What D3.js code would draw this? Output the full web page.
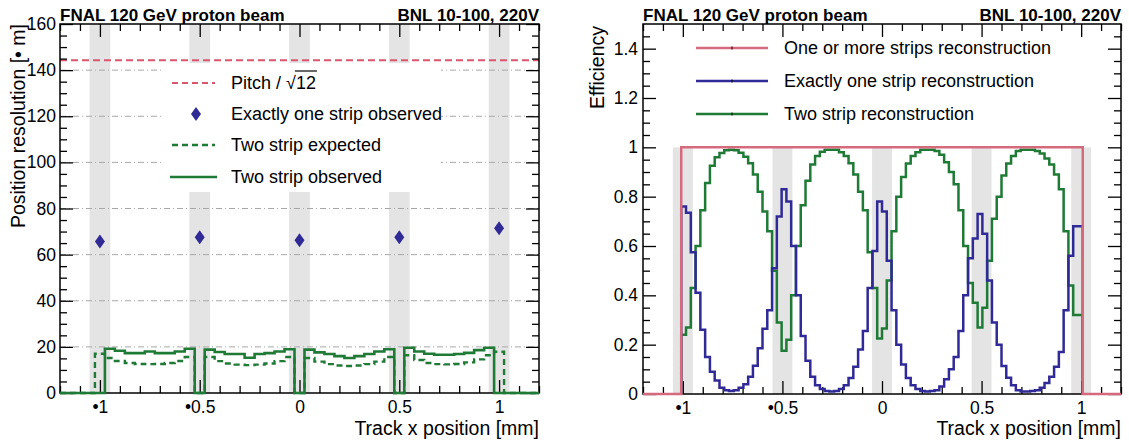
<!DOCTYPE html>
<html>
<head>
<meta charset="utf-8">
<script src="https://cdn.jsdelivr.net/npm/d3@7"></script>
<style>
  body { margin: 0; background: #fff; }
  svg text { font-family: "Liberation Sans", Arial, sans-serif; fill: #000; }
  .axis path.domain { display: none; }
  .axis line { stroke: #000; stroke-width: 1.3; }
  .axis text { font-size: 17.5px; }
</style>
</head>
<body>
<div id="chart"></div>
<script>
// ---------- shared ----------
const stripPos = [-1, -0.5, 0, 0.5, 1];
const xTickVals = [-1, -0.5, 0, 0.5, 1];
const xTickLabels = ["•1", "•0.5", "0", "0.5", "1"];

// ---------- left: position resolution ----------
const resTicks = [0, 20, 40, 60, 80, 100, 120, 140, 160];
const resTickLabels = ["0", "20", "40", "60", "80", "100", "120", "140", "160"];
const pitchLevel = 144.3; // 500 um / sqrt(12)

const oneStripX = [-1, -0.5, 0, 0.5, 1];
const oneStripRes = [65.7, 67.5, 66.2, 67.5, 71.4];

const resBinCenters = [-1.00, -0.95, -0.90, -0.85, -0.80, -0.75, -0.70, -0.65, -0.60, -0.55,
  -0.50, -0.45, -0.40, -0.35, -0.30, -0.25, -0.20, -0.15, -0.10, -0.05,
  0.00, 0.05, 0.10, 0.15, 0.20, 0.25, 0.30, 0.35, 0.40, 0.45,
  0.50, 0.55, 0.60, 0.65, 0.70, 0.75, 0.80, 0.85, 0.90, 0.95, 1.00];
const twoObserved = [0, 19.2, 18.3, 17.3, 17.3, 18.0, 17.3, 17.3, 18.0, 19.2,
  0, 18.8, 17.8, 16.9, 16.9, 15.3, 16.9, 17.3, 18.0, 19.0,
  0, 18.8, 17.6, 16.9, 16.0, 15.2, 16.0, 16.9, 18.0, 19.0,
  0, 19.6, 18.0, 17.0, 16.6, 16.6, 16.9, 17.4, 18.6, 19.6, 0];
const twoExpected = [17.0, 15.2, 13.9, 13.0, 12.6, 12.5, 12.6, 13.0, 13.9, 15.6,
  0, 15.6, 13.8, 12.8, 12.3, 12.1, 12.3, 12.8, 13.8, 15.6,
  0, 15.2, 13.6, 12.5, 11.9, 11.7, 11.9, 12.5, 13.6, 15.6,
  0, 16.4, 14.3, 13.0, 12.5, 12.4, 12.6, 13.3, 14.6, 16.4, 17.9];

// ---------- right: efficiency ----------
const effTicks = [0, 0.2, 0.4, 0.6, 0.8, 1, 1.2, 1.4];
const effTickLabels = ["0", "0.2", "0.4", "0.6", "0.8", "1", "1.2", "1.4"];

const effBinCenters = [-0.996, -0.972, -0.948, -0.924, -0.900, -0.876, -0.852, -0.828, -0.804, -0.780,
  -0.756, -0.732, -0.708, -0.684, -0.660, -0.636, -0.612, -0.588, -0.564, -0.540,
  -0.516, -0.492, -0.468, -0.444, -0.420, -0.396, -0.372, -0.348, -0.324, -0.300,
  -0.276, -0.252, -0.228, -0.204, -0.180, -0.156, -0.132, -0.108, -0.084, -0.060,
  -0.036, -0.012, 0.012, 0.036, 0.060, 0.084, 0.108, 0.132, 0.156, 0.180,
  0.204, 0.228, 0.252, 0.276, 0.300, 0.324, 0.348, 0.372, 0.396, 0.420,
  0.444, 0.468, 0.492, 0.516, 0.540, 0.564, 0.588, 0.612, 0.636, 0.660,
  0.684, 0.708, 0.732, 0.756, 0.780, 0.804, 0.828, 0.852, 0.876, 0.900,
  0.924, 0.948, 0.972, 0.996];
const effOneOrMore = [1, 1, 1, 1, 1, 1, 1, 1, 1, 1, 1, 1, 1, 1, 1, 1, 1, 1, 1, 1, 1,
  1, 1, 1, 1, 1, 1, 1, 1, 1, 1, 1, 1, 1, 1, 1, 1, 1, 1, 1, 1, 1,
  1, 1, 1, 1, 1, 1, 1, 1, 1, 1, 1, 1, 1, 1, 1, 1, 1, 1, 1, 1, 1,
  1, 1, 1, 1, 1, 1, 1, 1, 1, 1, 1, 1, 1, 1, 1, 1, 1, 1, 1, 1, 1];
const effExactlyOne = [0.76, 0.735, 0.575, 0.41, 0.26, 0.15, 0.09, 0.055, 0.025, 0.015,
  0.012, 0.015, 0.025, 0.04, 0.07, 0.115, 0.185, 0.265, 0.34, 0.51,
  0.72, 0.83, 0.78, 0.60, 0.40, 0.235, 0.135, 0.07, 0.035, 0.02,
  0.012, 0.01, 0.012, 0.02, 0.035, 0.065, 0.11, 0.18, 0.255, 0.43,
  0.58, 0.78, 0.74, 0.54, 0.34, 0.20, 0.12, 0.065, 0.035, 0.02,
  0.012, 0.01, 0.012, 0.015, 0.03, 0.06, 0.10, 0.15, 0.255, 0.40,
  0.55, 0.63, 0.73, 0.65, 0.46, 0.29, 0.20, 0.114, 0.066, 0.035,
  0.015, 0.01, 0.01, 0.012, 0.015, 0.025, 0.045, 0.07, 0.11, 0.17,
  0.34, 0.56, 0.68, 0.68];
const effTwoStrip = [0.24, 0.27, 0.43, 0.60, 0.745, 0.855, 0.925, 0.96, 0.977, 0.988,
  0.99, 0.988, 0.978, 0.962, 0.935, 0.89, 0.82, 0.74, 0.66, 0.50,
  0.29, 0.175, 0.22, 0.40, 0.60, 0.765, 0.865, 0.93, 0.965, 0.982,
  0.99, 0.99, 0.99, 0.98, 0.965, 0.935, 0.89, 0.82, 0.745, 0.575,
  0.43, 0.225, 0.266, 0.46, 0.66, 0.80, 0.88, 0.934, 0.965, 0.98,
  0.99, 0.99, 0.99, 0.985, 0.97, 0.94, 0.90, 0.85, 0.745, 0.60,
  0.45, 0.37, 0.27, 0.35, 0.54, 0.71, 0.80, 0.886, 0.934, 0.965,
  0.985, 0.99, 0.99, 0.99, 0.985, 0.975, 0.955, 0.93, 0.89, 0.83,
  0.66, 0.44, 0.32, 0.32];

(function () {
  var green = "#1f7a36", blue = "#302a96", red = "#d46a7c", redDash = "#d9566e", band = "#e4e4e4";

  // step histogram outline through the given bins
  function stepPoints(centers, values, width, xFrom, xTo) {
    var pts = [];
    var lo0 = centers[0] - width / 2, hiN = centers[centers.length - 1] + width / 2;
    if (xFrom !== null) pts.push([xFrom, 0]);
    pts.push([lo0, 0]);
    centers.forEach(function (c, i) {
      pts.push([c - width / 2, values[i]], [c + width / 2, values[i]]);
    });
    pts.push([hiN, 0]);
    if (xTo !== null) pts.push([xTo, 0]);
    return pts;
  }

  function drawAxes(g, x, y, w, h, yVals, yLabels, yMinor, yPad) {
    var xMinor = d3.range(-1.2, 1.2001, 0.1).filter(v => !xTickVals.some(m => Math.abs(m - v) < 1e-6));

    g.append("rect").attr("width", w).attr("height", h)
      .attr("fill", "none").attr("stroke", "#000").attr("stroke-width", 1.5);

    // bottom / top
    g.append("g").attr("class", "axis").attr("transform", "translate(0," + h + ")")
      .call(d3.axisBottom(x).tickValues(xTickVals).tickSize(-13).tickSizeOuter(0).tickPadding(8)
        .tickFormat((d, i) => xTickLabels[i]));
    g.append("g").attr("class", "axis").attr("transform", "translate(0," + h + ")")
      .call(d3.axisBottom(x).tickValues(xMinor).tickSize(-7).tickSizeOuter(0).tickFormat(""));
    g.append("g").attr("class", "axis")
      .call(d3.axisTop(x).tickValues(xTickVals).tickSize(-13).tickSizeOuter(0).tickFormat(""));
    g.append("g").attr("class", "axis")
      .call(d3.axisTop(x).tickValues(xMinor).tickSize(-7).tickSizeOuter(0).tickFormat(""));

    // left / right
    g.append("g").attr("class", "axis")
      .call(d3.axisLeft(y).tickValues(yVals).tickSize(-13).tickSizeOuter(0).tickPadding(yPad)
        .tickFormat((d, i) => yLabels[i]));
    g.append("g").attr("class", "axis")
      .call(d3.axisLeft(y).tickValues(yMinor).tickSize(-7).tickSizeOuter(0).tickFormat(""));
    g.append("g").attr("class", "axis").attr("transform", "translate(" + w + ",0)")
      .call(d3.axisRight(y).tickValues(yVals).tickSize(-13).tickSizeOuter(0).tickFormat(""));
    g.append("g").attr("class", "axis").attr("transform", "translate(" + w + ",0)")
      .call(d3.axisRight(y).tickValues(yMinor).tickSize(-7).tickSizeOuter(0).tickFormat(""));
  }

  function titles(g, w) {
    g.append("text").attr("x", 0).attr("y", -3).attr("font-size", "17px").attr("font-weight", "bold")
      .text("FNAL 120 GeV proton beam");
    g.append("text").attr("x", w).attr("y", -3).attr("text-anchor", "end")
      .attr("font-size", "17px").attr("font-weight", "bold").text("BNL 10-100, 220V");
    g.append("text").attr("x", w).attr("y", 411).attr("text-anchor", "end")
      .attr("font-size", "19.5px").text("Track x position [mm]");
  }

  var drawCharts = function () {
    var svg = d3.select("#chart").append("svg").attr("width", 1129).attr("height", 442);

    // ================= left panel =================
    var L = { left: 60, top: 24, width: 479, height: 369 };
    var gl = svg.append("g").attr("transform", "translate(" + L.left + "," + L.top + ")");
    var xL = d3.scaleLinear().domain([-1.2, 1.2]).range([0, L.width]);
    var yL = d3.scaleLinear().domain([0, 160]).range([L.height, 0]);

    gl.selectAll("rect.band").data(stripPos).enter().append("rect").attr("class", "band")
      .attr("x", d => xL(d - 0.052)).attr("width", d => xL(d + 0.052) - xL(d - 0.052))
      .attr("y", 0).attr("height", L.height).attr("fill", band);

    gl.selectAll("line.grid").data(resTicks.filter(d => d > 0 && d < 160)).enter().append("line")
      .attr("class", "grid")
      .attr("x1", 0).attr("x2", L.width).attr("y1", d => yL(d)).attr("y2", d => yL(d))
      .attr("stroke", "#a8a8a8").attr("stroke-width", 1).attr("stroke-dasharray", "6,3,1,3");

    // legend box hides bands and grid behind it
    gl.append("rect").attr("x", 101).attr("y", 39).attr("width", 280).attr("height", 129).attr("fill", "#fff");

    gl.append("line").attr("x1", 0).attr("x2", L.width)
      .attr("y1", yL(pitchLevel)).attr("y2", yL(pitchLevel))
      .attr("stroke", redDash).attr("stroke-width", 2).attr("stroke-dasharray", "7,4");

    drawAxes(gl, xL, yL, L.width, L.height, resTicks, resTickLabels, d3.range(5, 160, 5).filter(v => v % 20 !== 0), 4);

    var lineL = d3.line().x(d => xL(d[0])).y(d => yL(d[1]));
    gl.append("path").datum(stepPoints(resBinCenters, twoExpected, 0.05, -1.2, 1.2))
      .attr("d", lineL).attr("fill", "none").attr("stroke", green).attr("stroke-width", 2.4)
      .attr("stroke-dasharray", "6,4");
    gl.append("path").datum(stepPoints(resBinCenters, twoObserved, 0.05, -1.2, 1.2))
      .attr("d", lineL).attr("fill", "none").attr("stroke", green).attr("stroke-width", 2.6);

    gl.selectAll("path.diamond").data(oneStripX).enter().append("path").attr("class", "diamond")
      .attr("transform", (d, i) => "translate(" + xL(d) + "," + yL(oneStripRes[i]) + ")")
      .attr("d", "M0,-7L5,0L0,7L-5,0Z").attr("fill", blue);

    titles(gl, L.width);
    gl.append("text").attr("transform", "rotate(-90)").attr("x", 0).attr("y", -35)
      .attr("text-anchor", "end").attr("font-size", "19.5px").text("Position resolution [• m]");

    // left legend
    var lg = svg.append("g");
    var lx1 = 172, lx2 = 215, tx = 231;
    lg.append("line").attr("x1", lx1).attr("x2", lx2).attr("y1", 83).attr("y2", 83)
      .attr("stroke", redDash).attr("stroke-width", 2).attr("stroke-dasharray", "6,4");
    var t1 = lg.append("text").attr("x", tx).attr("y", 83).attr("dy", "0.35em").attr("font-size", "18px")
      .text("Pitch / \u221A");
    var w1 = t1.node().getComputedTextLength();
    var t2 = lg.append("text").attr("x", tx + w1).attr("y", 83).attr("dy", "0.35em").attr("font-size", "18px")
      .text("12");
    var w2 = t2.node().getComputedTextLength();
    lg.append("line").attr("x1", tx + w1 - 1).attr("x2", tx + w1 + w2 + 1).attr("y1", 71).attr("y2", 71)
      .attr("stroke", "#000").attr("stroke-width", 1.2);

    lg.append("path").attr("transform", "translate(196,114)").attr("d", "M0,-7L5,0L0,7L-5,0Z").attr("fill", blue);
    lg.append("text").attr("x", tx).attr("y", 114).attr("dy", "0.35em").attr("font-size", "18px")
      .text("Exactly one strip observed");
    lg.append("line").attr("x1", lx1).attr("x2", lx2).attr("y1", 145).attr("y2", 145)
      .attr("stroke", green).attr("stroke-width", 2.4).attr("stroke-dasharray", "6,4");
    lg.append("text").attr("x", tx).attr("y", 145).attr("dy", "0.35em").attr("font-size", "18px")
      .text("Two strip expected");
    lg.append("line").attr("x1", lx1 - 2).attr("x2", lx2 + 2).attr("y1", 177).attr("y2", 177)
      .attr("stroke", green).attr("stroke-width", 2.6);
    lg.append("text").attr("x", tx).attr("y", 177).attr("dy", "0.35em").attr("font-size", "18px")
      .text("Two strip observed");

    // ================= right panel =================
    var R = { left: 643, top: 24, width: 478, height: 370 };
    var gr = svg.append("g").attr("transform", "translate(" + R.left + "," + R.top + ")");
    var xR = d3.scaleLinear().domain([-1.2, 1.2]).range([0, R.width]);
    var yR = d3.scaleLinear().domain([0, 1.5]).range([R.height, 0]);

    gr.selectAll("rect.band").data(stripPos).enter().append("rect").attr("class", "band")
      .attr("x", d => xR(d - 0.05)).attr("width", d => xR(d + 0.05) - xR(d - 0.05))
      .attr("y", yR(1)).attr("height", yR(0) - yR(1)).attr("fill", band);

    drawAxes(gr, xR, yR, R.width, R.height, effTicks, effTickLabels,
      d3.range(0.05, 1.5, 0.05).filter(v => Math.abs(v / 0.2 - Math.round(v / 0.2)) > 1e-6), 5);

    var lineR = d3.line().x(d => xR(d[0])).y(d => yR(d[1]));
    gr.append("path").datum(stepPoints(effBinCenters, effTwoStrip, 0.024, null, null))
      .attr("d", lineR).attr("fill", "none").attr("stroke", green).attr("stroke-width", 2.5);
    gr.append("path").datum(stepPoints(effBinCenters, effExactlyOne, 0.024, null, null))
      .attr("d", lineR).attr("fill", "none").attr("stroke", blue).attr("stroke-width", 2.5);
    gr.append("path").datum(stepPoints(effBinCenters, effOneOrMore, 0.024, -1.2, 1.2))
      .attr("d", lineR).attr("fill", "none").attr("stroke", red).attr("stroke-width", 2.5);

    titles(gr, R.width);
    gr.append("text").attr("transform", "rotate(-90)").attr("x", -2).attr("y", -39)
      .attr("text-anchor", "end").attr("font-size", "19.5px").text("Efficiency");

    // right legend
    var rg = svg.append("g");
    var rItems = [
      { label: "One or more strips reconstruction", color: red, y: 48 },
      { label: "Exactly one strip reconstruction", color: blue, y: 81 },
      { label: "Two strip reconstruction", color: green, y: 114 }
    ];
    rItems.forEach(function (it) {
      rg.append("line").attr("x1", 696).attr("x2", 768).attr("y1", it.y).attr("y2", it.y)
        .attr("stroke", it.color).attr("stroke-width", 2.5);
      rg.append("line").attr("x1", 732).attr("x2", 732).attr("y1", it.y - 1.5).attr("y2", it.y + 1.5)
        .attr("stroke", "#000").attr("stroke-width", 1);
      rg.append("text").attr("x", 784).attr("y", it.y).attr("dy", "0.35em").attr("font-size", "18px")
        .text(it.label);
    });
  };

  document.addEventListener("DOMContentLoaded", function () {
    drawCharts();
  });
})();
</script>
</body>
</html>
